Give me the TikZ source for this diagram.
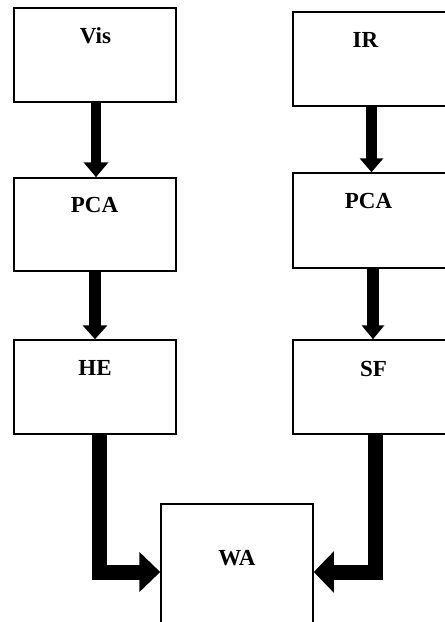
\documentclass[tikz,border=0pt]{standalone}
\usepackage{fontspec}
\setmainfont{Liberation Serif}
\usetikzlibrary{arrows.meta}
\begin{document}
\begin{tikzpicture}[x=1pt,y=-1pt,
  box/.style={draw=black, line width=1.5pt, fill=white, minimum width=162pt, inner sep=0pt},
  lab/.style={anchor=base, inner sep=0pt, font=\fontsize{23}{27}\selectfont\bfseries},
  arr/.style={draw=black, line width=#1},
]
\useasboundingbox (0,0) rectangle (445,622);
% boxes
\node[box, minimum height=94pt] (vis) at (95,55) {};
\node[box, minimum height=94pt] (ir) at (374,59) {};
\node[box, minimum height=93pt] (pcaL) at (95,224.5) {};
\node[box, minimum height=95pt] (pcaR) at (374,220.5) {};
\node[box, minimum height=94pt] (he) at (95,387) {};
\node[box, minimum height=94pt] (sf) at (374,387) {};
\node[box, minimum width=152pt, minimum height=136pt] (wa) at (237,572) {};
% labels
\node[lab] (tvis) at (95.5,43) {Vis};
\node[lab] (tir) at (365.5,47) {IR};
\node[lab] (tpcaL) at (94.5,212) {PCA};
\node[lab] (tpcaR) at (368.5,208) {PCA};
\node[lab] (the) at (95,375) {HE};
\node[lab] (tsf) at (373.5,376) {SF};
\node[lab] (twa) at (237,565) {WA};
% arrows
\draw[arr=10pt, -{Triangle[length=15pt,width=24pt]}] ([xshift=1pt]vis.south) -- ([xshift=1pt]pcaL.north);
\draw[arr=11pt, -{Triangle[length=14pt,width=23pt]}] ([xshift=-2.5pt]ir.south) -- ([xshift=-2.5pt]pcaR.north);
\draw[arr=12pt, -{Triangle[length=14pt,width=24pt]}] (pcaL.south) -- (he.north);
\draw[arr=12pt, -{Triangle[length=14pt,width=22pt]}] ([xshift=-1pt]pcaR.south) -- ([xshift=-1pt]sf.north);
\draw[arr=15pt, line join=miter, -{Triangle[length=21pt,width=39pt]}] ([xshift=4pt]he.south) |- (wa.west);
\draw[arr=15pt, line join=miter, -{Triangle[length=20pt,width=40pt]}] ([xshift=1.5pt]sf.south) |- (wa.east);
\end{tikzpicture}
\end{document}
